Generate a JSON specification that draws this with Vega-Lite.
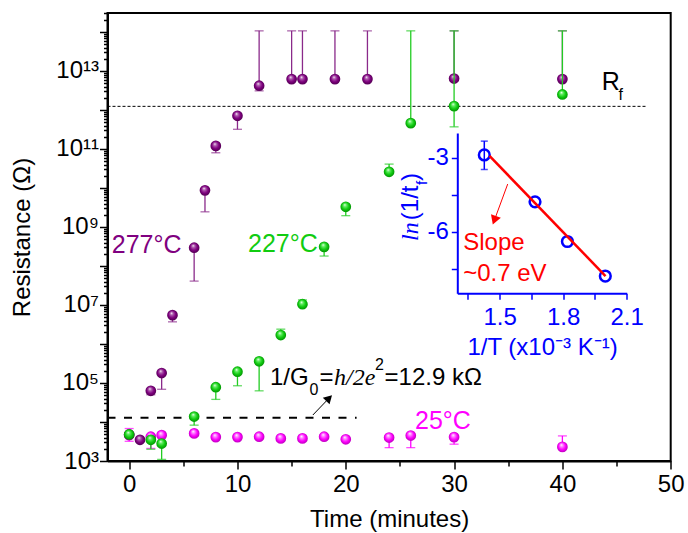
{
  "$schema": "https://vega.github.io/schema/vega-lite/v6.json",
  "width": 563.2,
  "height": 448,
  "autosize": {"type": "none"},
  "padding": {"left": 107.5, "top": 13, "right": 17.3, "bottom": 72},
  "config": {
    "font": "Liberation Sans",
    "view": {"stroke": "black", "strokeWidth": 2},
    "axis": {"grid": false}
  },
  "datasets": {
    "pts": [
      {"s": "25", "t": 0, "R": 4600}, {"s": "25", "t": 2, "R": 4200}, {"s": "25", "t": 3, "R": 4600},
      {"s": "25", "t": 6, "R": 5100}, {"s": "25", "t": 8, "R": 4100}, {"s": "25", "t": 10, "R": 4100},
      {"s": "25", "t": 12, "R": 4200}, {"s": "25", "t": 14, "R": 3800}, {"s": "25", "t": 16, "R": 3800},
      {"s": "25", "t": 18, "R": 4200}, {"s": "25", "t": 20, "R": 3600}, {"s": "25", "t": 24, "R": 4000},
      {"s": "25", "t": 26, "R": 4500}, {"s": "25", "t": 30, "R": 4100}, {"s": "25", "t": 40, "R": 2300},
      {"s": "277", "t": 0, "R": 4800}, {"s": "277", "t": 1, "R": 3500}, {"s": "277", "t": 2, "R": 63000},
      {"s": "277", "t": 3, "R": 180000}, {"s": "277", "t": 4, "R": 5500000}, {"s": "277", "t": 6, "R": 295000000},
      {"s": "277", "t": 7, "R": 8700000000}, {"s": "277", "t": 8, "R": 120000000000}, {"s": "277", "t": 10, "R": 710000000000},
      {"s": "277", "t": 12, "R": 4200000000000}, {"s": "277", "t": 15, "R": 6200000000000}, {"s": "277", "t": 16, "R": 6200000000000},
      {"s": "277", "t": 19, "R": 6200000000000}, {"s": "277", "t": 22, "R": 6200000000000}, {"s": "277", "t": 30, "R": 6400000000000},
      {"s": "277", "t": 40, "R": 6200000000000},
      {"s": "227", "t": 0, "R": 4800}, {"s": "227", "t": 2, "R": 3500}, {"s": "227", "t": 3, "R": 2800},
      {"s": "227", "t": 6, "R": 13800}, {"s": "227", "t": 8, "R": 78000}, {"s": "227", "t": 10, "R": 195000},
      {"s": "227", "t": 12, "R": 360000}, {"s": "227", "t": 14, "R": 1700000}, {"s": "227", "t": 16, "R": 10500000},
      {"s": "227", "t": 18, "R": 310000000}, {"s": "227", "t": 20, "R": 3300000000}, {"s": "227", "t": 24, "R": 26000000000},
      {"s": "227", "t": 26, "R": 460000000000}, {"s": "227", "t": 30, "R": 1260000000000}, {"s": "227", "t": 40, "R": 2500000000000}
    ],
    "err": [
      {"s": "25", "t": 0, "R0": 4600, "R": 6800}, {"s": "25", "t": 0, "R0": 4600, "R": 3200},
      {"s": "25", "t": 2, "R0": 4200, "R": 2100}, {"s": "25", "t": 18, "R0": 4200, "R": 4700},
      {"s": "25", "t": 24, "R0": 4000, "R": 2200}, {"s": "25", "t": 26, "R0": 4500, "R": 2200},
      {"s": "25", "t": 30, "R0": 4100, "R": 2700}, {"s": "25", "t": 40, "R0": 2300, "R": 4400},
      {"s": "277", "t": 2, "R0": 63000, "R": 50000}, {"s": "277", "t": 3, "R0": 180000, "R": 69000},
      {"s": "277", "t": 4, "R0": 5500000, "R": 3700000}, {"s": "277", "t": 6, "R0": 295000000, "R": 41000000},
      {"s": "277", "t": 7, "R0": 8700000000, "R": 2450000000}, {"s": "277", "t": 8, "R0": 120000000000, "R": 80000000000},
      {"s": "277", "t": 10, "R0": 710000000000, "R": 320000000000}, {"s": "277", "t": 12, "R0": 4200000000000, "R": 107000000000000},
      {"s": "277", "t": 12, "R0": 4200000000000, "R": 3100000000000},
      {"s": "277", "t": 15, "R0": 6200000000000, "R": 107000000000000}, {"s": "277", "t": 16, "R0": 6200000000000, "R": 107000000000000},
      {"s": "277", "t": 19, "R0": 6200000000000, "R": 107000000000000}, {"s": "277", "t": 22, "R0": 6200000000000, "R": 107000000000000},
      {"s": "277", "t": 30, "R0": 6400000000000, "R": 107000000000000}, {"s": "277", "t": 40, "R0": 6200000000000, "R": 107000000000000},
      {"s": "227", "t": 2, "R0": 3500, "R": 2000}, {"s": "227", "t": 3, "R0": 2800, "R": 1100},
      {"s": "227", "t": 6, "R0": 13800, "R": 8300}, {"s": "227", "t": 8, "R0": 78000, "R": 38000},
      {"s": "227", "t": 10, "R0": 195000, "R": 85000}, {"s": "227", "t": 12, "R0": 360000, "R": 63000},
      {"s": "227", "t": 14, "R0": 1700000, "R": 2400000}, {"s": "227", "t": 16, "R0": 10500000, "R": 13500000},
      {"s": "227", "t": 18, "R0": 310000000, "R": 180000000}, {"s": "227", "t": 20, "R0": 3300000000, "R": 1950000000},
      {"s": "227", "t": 24, "R0": 26000000000, "R": 41000000000}, {"s": "227", "t": 26, "R0": 460000000000, "R": 107000000000000},
      {"s": "227", "t": 30, "R0": 1260000000000, "R": 107000000000000}, {"s": "227", "t": 30, "R0": 1260000000000, "R": 370000000000},
      {"s": "227", "t": 40, "R0": 2500000000000, "R": 107000000000000}
    ]
  },
  "layer": [
    {
      "encoding": {
        "x": {
          "field": "t", "type": "quantitative",
          "scale": {"domain": [-2, 50], "nice": false, "zero": false},
          "axis": {
            "title": "Time (minutes)",
            "values": [0, 5, 10, 15, 20, 25, 30, 35, 40, 45, 50],
            "labelExpr": "datum.value % 10 == 0 ? datum.label : ''",
            "tickSize": {"condition": {"test": "datum.value % 10 == 0", "value": 8}, "value": 5},
            "tickWidth": 1.5, "tickColor": "black", "domainColor": "black", "domainWidth": 2,
            "labelFontSize": 24, "labelColor": "black", "labelPadding": 3, "labelFlush": false, "labelOverlap": false,
            "titleFontSize": 24, "titleFontWeight": "normal", "titleColor": "black", "titlePadding": 11
          }
        },
        "y": {
          "field": "R", "type": "quantitative",
          "scale": {"type": "log", "domain": [1000, 307000000000000], "nice": false},
          "axis": {
            "title": "Resistance (Ω)",
            "values": [1e3,2e3,3e3,4e3,5e3,6e3,7e3,8e3,9e3,1e4,2e4,3e4,4e4,5e4,6e4,7e4,8e4,9e4,1e5,2e5,3e5,4e5,5e5,6e5,7e5,8e5,9e5,1e6,2e6,3e6,4e6,5e6,6e6,7e6,8e6,9e6,1e7,2e7,3e7,4e7,5e7,6e7,7e7,8e7,9e7,1e8,2e8,3e8,4e8,5e8,6e8,7e8,8e8,9e8,1e9,2e9,3e9,4e9,5e9,6e9,7e9,8e9,9e9,1e10,2e10,3e10,4e10,5e10,6e10,7e10,8e10,9e10,1e11,2e11,3e11,4e11,5e11,6e11,7e11,8e11,9e11,1e12,2e12,3e12,4e12,5e12,6e12,7e12,8e12,9e12,1e13,2e13,3e13,4e13,5e13,6e13,7e13,8e13,9e13,1e14,2e14,3e14],
            "labelExpr": "datum.value == 1000 ? '10³' : datum.value == 100000 ? '10⁵' : datum.value == 10000000 ? '10⁷' : datum.value == 1000000000 ? '10⁹' : datum.value == 100000000000 ? '10¹¹' : datum.value == 10000000000000 ? '10¹³' : ''",
            "tickSize": {"condition": {"test": "abs(log(datum.value)/LN10 - round(log(datum.value)/LN10)) < 0.001", "value": 8}, "value": 4},
            "tickWidth": 1.5, "tickColor": "black", "domainColor": "black", "domainWidth": 2,
            "labelFontSize": 24, "labelColor": "black", "labelPadding": 1, "labelFlush": false, "labelOverlap": false,
            "titleFontSize": 24, "titleFontWeight": "normal", "titleColor": "black", "titlePadding": 21
          }
        }
      },
      "layer": [
        {
          "data": {"values": [{"t": -2, "t2": 47.8, "R": 1240000000000}]},
          "mark": {"type": "rule", "color": "black", "strokeWidth": 1, "strokeDash": [3, 2]},
          "encoding": {"x2": {"field": "t2"}}
        },
        {
          "data": {"values": [{"t": -2, "t2": 21, "R": 12900}]},
          "mark": {"type": "rule", "color": "black", "strokeWidth": 2, "strokeDash": [8, 8.5]},
          "encoding": {"x2": {"field": "t2"}}
        },
        {
          "data": {"name": "err"}, "transform": [{"filter": "datum.s == '25'"}],
          "mark": {"type": "rule", "color": "#FF00FF", "strokeWidth": 1.3},
          "encoding": {"y2": {"field": "R0"}}
        },
        {
          "data": {"name": "err"}, "transform": [{"filter": "datum.s == '25'"}],
          "mark": {"type": "tick", "orient": "horizontal", "color": "#FF00FF", "size": 9, "thickness": 1.3}
        },
        {
          "data": {"name": "pts"}, "transform": [{"filter": "datum.s == '25'"}],
          "mark": {"type": "point", "shape": "circle", "filled": true, "size": 115, "opacity": 1,
            "fill": {"gradient": "radial", "x1": 0.4, "y1": 0.3, "r1": 0, "x2": 0.5, "y2": 0.5, "r2": 0.55,
              "stops": [{"offset": 0, "color": "#ffffff"}, {"offset": 0.25, "color": "#ff88ff"}, {"offset": 0.6, "color": "#ff00ff"}, {"offset": 1, "color": "#b000b0"}]}}
        },
        {
          "data": {"name": "err"}, "transform": [{"filter": "datum.s == '277'"}],
          "mark": {"type": "rule", "color": "#8a2a8a", "strokeWidth": 1.3},
          "encoding": {"y2": {"field": "R0"}}
        },
        {
          "data": {"name": "err"}, "transform": [{"filter": "datum.s == '277'"}],
          "mark": {"type": "tick", "orient": "horizontal", "color": "#8a2a8a", "size": 9, "thickness": 1.3}
        },
        {
          "data": {"name": "pts"}, "transform": [{"filter": "datum.s == '277'"}],
          "mark": {"type": "point", "shape": "circle", "filled": true, "size": 115, "opacity": 1,
            "fill": {"gradient": "radial", "x1": 0.4, "y1": 0.3, "r1": 0, "x2": 0.5, "y2": 0.5, "r2": 0.55,
              "stops": [{"offset": 0, "color": "#ffffff"}, {"offset": 0.25, "color": "#b060b0"}, {"offset": 0.6, "color": "#800080"}, {"offset": 1, "color": "#4a004a"}]}}
        },
        {
          "data": {"name": "err"}, "transform": [{"filter": "datum.s == '227'"}],
          "mark": {"type": "rule", "color": "#22cc22", "strokeWidth": 1.3},
          "encoding": {"y2": {"field": "R0"}}
        },
        {
          "data": {"name": "err"}, "transform": [{"filter": "datum.s == '227'"}],
          "mark": {"type": "tick", "orient": "horizontal", "color": "#22cc22", "size": 9, "thickness": 1.3}
        },
        {
          "data": {"name": "pts"}, "transform": [{"filter": "datum.s == '227'"}],
          "mark": {"type": "point", "shape": "circle", "filled": true, "size": 115, "opacity": 1,
            "fill": {"gradient": "radial", "x1": 0.4, "y1": 0.3, "r1": 0, "x2": 0.5, "y2": 0.5, "r2": 0.55,
              "stops": [{"offset": 0, "color": "#ffffff"}, {"offset": 0.25, "color": "#66ee66"}, {"offset": 0.6, "color": "#11cc11"}, {"offset": 1, "color": "#008800"}]}}
        },
        {
          "data": {"values": [{"t": -1.61, "R": 345000000, "label": "277°C"}]},
          "mark": {"type": "text", "align": "left", "baseline": "middle", "fontSize": 25, "color": "#800080"},
          "encoding": {"text": {"field": "label"}}
        },
        {
          "data": {"values": [{"t": 10.97, "R": 366000000, "label": "227°C"}]},
          "mark": {"type": "text", "align": "left", "baseline": "middle", "fontSize": 25, "color": "#11cc11"},
          "encoding": {"text": {"field": "label"}}
        },
        {
          "data": {"values": [{"t": 26.39, "R": 10300, "label": "25°C"}]},
          "mark": {"type": "text", "align": "left", "baseline": "middle", "fontSize": 25, "color": "#FF00FF"},
          "encoding": {"text": {"field": "label"}}
        },
        {
          "data": {"values": [{"t": 43.63, "R": 5220000000000, "label": "R"}]},
          "mark": {"type": "text", "align": "left", "baseline": "middle", "fontSize": 25, "color": "black"},
          "encoding": {"text": {"field": "label"}}
        },
        {
          "data": {"values": [{"t": 45.38, "R": 2400000000000, "label": "f"}, {"t": 17.07, "R": 66000, "label": "0"}, {"t": 23.11, "R": 285000, "label": "2"}]},
          "mark": {"type": "text", "align": "center", "baseline": "middle", "fontSize": 16, "color": "black"},
          "encoding": {"text": {"field": "label"}}
        },
        {
          "data": {"values": [{"t": 13.0, "R": 132000, "label": "1/G"}, {"t": 17.57, "R": 132000, "label": "="}, {"t": 23.58, "R": 132000, "label": "=12.9 kΩ"}]},
          "mark": {"type": "text", "align": "left", "baseline": "middle", "fontSize": 24, "color": "black"},
          "encoding": {"text": {"field": "label"}}
        },
        {
          "data": {"values": [{"t": 18.91, "R": 132000, "label": "h/2e"}]},
          "mark": {"type": "text", "align": "left", "baseline": "middle", "fontSize": 24, "font": "Liberation Serif", "fontStyle": "italic", "color": "black"},
          "encoding": {"text": {"field": "label"}}
        },
        {
          "data": {"values": [{"t": 16.96, "R": 15100, "t2": 18.46, "R2": 41000}]},
          "mark": {"type": "rule", "color": "black", "strokeWidth": 1},
          "encoding": {"x2": {"field": "t2"}, "y2": {"field": "R2"}}
        },
        {
          "data": {"values": [{"t": 18.46, "R": 41000}]},
          "mark": {"type": "point", "shape": "triangle-up", "filled": true, "color": "black", "size": 90, "angle": 45, "opacity": 1}
        }
      ]
    },
    {
      "encoding": {
        "x": {
          "field": "ix", "type": "quantitative",
          "scale": {"domain": [1.3, 2.1], "range": [349.8, 519.2], "nice": false, "zero": false},
          "axis": {
            "orient": "bottom", "offset": -167.7,
            "values": [1.35, 1.5, 1.65, 1.8, 1.95, 2.1],
            "labelExpr": "datum.value == 1.5 || datum.value == 1.8 || datum.value == 2.1 ? format(datum.value, '.1f') : ''",
            "tickSize": 6, "tickWidth": 1.5, "tickColor": "#0000FF", "domainColor": "#0000FF", "domainWidth": 2,
            "labelColor": "#0000FF", "labelFontSize": 24, "labelFlush": false, "labelOverlap": false, "labelPadding": 6,
            "title": "1/T (x10⁻³ K⁻¹)", "titleColor": "#0000FF", "titleFontSize": 24, "titleFontWeight": "normal", "titlePadding": 6
          }
        },
        "y": {
          "field": "iy", "type": "quantitative",
          "scale": {"domain": [-8.5, -2], "range": [280.3, 120], "nice": false, "zero": false},
          "axis": {
            "orient": "left", "offset": -349.8,
            "values": [-7.5, -6, -4.5, -3],
            "labelExpr": "datum.value == -3 ? '-3' : datum.value == -6 ? '-6' : ''",
            "tickSize": 6, "tickWidth": 1.5, "tickColor": "#0000FF", "domainColor": "#0000FF", "domainWidth": 2,
            "labelColor": "#0000FF", "labelFontSize": 24, "labelFlush": false, "labelOverlap": false, "labelPadding": 3,
            "title": null
          }
        }
      },
      "layer": [
        {
          "data": {"values": [{"ix": 1.4275, "iy": -3.48, "iy2": -2.33}]},
          "mark": {"type": "rule", "color": "#0000FF", "strokeWidth": 1.5},
          "encoding": {"y2": {"field": "iy2"}}
        },
        {
          "data": {"values": [{"ix": 1.4275, "iy": -3.48}, {"ix": 1.4275, "iy": -2.33}]},
          "mark": {"type": "tick", "orient": "horizontal", "color": "#0000FF", "size": 7, "thickness": 1.5}
        },
        {
          "data": {"values": [{"ix": 1.4275, "iy": -2.89}, {"ix": 1.667, "iy": -4.79}, {"ix": 1.82, "iy": -6.4}, {"ix": 1.999, "iy": -7.8}]},
          "mark": {"type": "point", "shape": "circle", "filled": false, "color": "#0000FF", "strokeWidth": 2.5, "size": 115, "opacity": 1}
        },
        {
          "data": {"values": [{"ix": 1.452, "iy": -2.93, "ix2": 2.0, "iy2": -7.8}]},
          "mark": {"type": "rule", "color": "#FF0000", "strokeWidth": 2.5},
          "encoding": {"x2": {"field": "ix2"}, "y2": {"field": "iy2"}}
        },
        {
          "data": {"values": [{"ix": 1.538, "iy": -4.07, "ix2": 1.475, "iy2": -5.54}]},
          "mark": {"type": "rule", "color": "#FF0000", "strokeWidth": 1},
          "encoding": {"x2": {"field": "ix2"}, "y2": {"field": "iy2"}}
        },
        {
          "data": {"values": [{"ix": 1.475, "iy": -5.54}]},
          "mark": {"type": "point", "shape": "triangle-down", "filled": true, "color": "#FF0000", "size": 110, "angle": 20, "opacity": 1}
        },
        {
          "data": {"values": [{"ix": 1.328, "iy": -6.46, "label": "Slope"}, {"ix": 1.328, "iy": -7.7, "label": "~0.7 eV"}]},
          "mark": {"type": "text", "align": "left", "baseline": "middle", "fontSize": 24, "color": "#FF0000"},
          "encoding": {"text": {"field": "label"}}
        },
        {
          "data": {"values": [{"ix": 1.0813, "iy": -6.0, "label": "ln"}]},
          "mark": {"type": "text", "align": "center", "baseline": "middle", "fontSize": 24, "angle": 270, "font": "Liberation Serif", "fontStyle": "italic", "color": "#0000FF"},
          "encoding": {"text": {"field": "label"}}
        },
        {
          "data": {"values": [{"ix": 1.0813, "iy": -4.83, "label": "(1/t"}, {"ix": 1.0813, "iy": -3.78, "label": ")"}]},
          "mark": {"type": "text", "align": "center", "baseline": "middle", "fontSize": 24, "angle": 270, "color": "#0000FF"},
          "encoding": {"text": {"field": "label"}}
        },
        {
          "data": {"values": [{"ix": 1.133, "iy": -4.02, "label": "f"}]},
          "mark": {"type": "text", "align": "center", "baseline": "middle", "fontSize": 15, "angle": 270, "color": "#0000FF"},
          "encoding": {"text": {"field": "label"}}
        }
      ]
    }
  ],
  "resolve": {"scale": {"x": "independent", "y": "independent"}, "axis": {"x": "independent", "y": "independent"}}
}
